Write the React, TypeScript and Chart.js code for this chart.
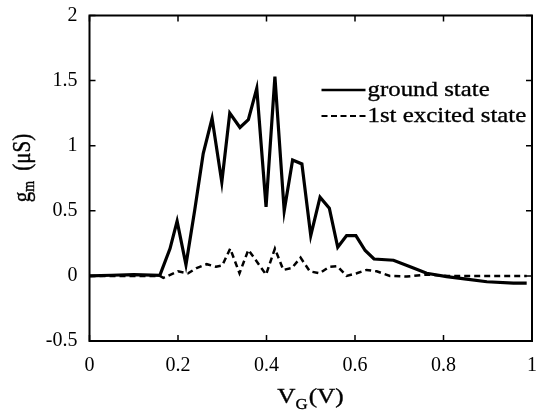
import React, { useEffect, useRef } from "react";
import { Chart, registerables } from "chart.js";

Chart.register(...registerables);

// Gate voltage V_G (V) and transconductance g_m (µS)
const groundV = [0, 0.05, 0.1, 0.159, 0.182, 0.198, 0.218, 0.238, 0.257, 0.277, 0.299, 0.317, 0.34, 0.359, 0.378, 0.399, 0.419, 0.44, 0.459, 0.48, 0.5, 0.521, 0.542, 0.561, 0.581, 0.602, 0.623, 0.643, 0.687, 0.732, 0.762, 0.807, 0.852, 0.898, 0.958, 0.988];
const groundG = [0, 0.005, 0.01, 0.005, 0.21, 0.42, 0.085, 0.51, 0.94, 1.21, 0.72, 1.25, 1.14, 1.2, 1.44, 0.53, 1.53, 0.5, 0.89, 0.86, 0.31, 0.605, 0.52, 0.22, 0.31, 0.31, 0.195, 0.13, 0.12, 0.06, 0.02, -0.005, -0.025, -0.045, -0.055, -0.055];

const excitedV = [0, 0.1, 0.159, 0.167, 0.2, 0.223, 0.242, 0.265, 0.286, 0.3, 0.318, 0.339, 0.359, 0.378, 0.399, 0.419, 0.438, 0.457, 0.477, 0.498, 0.52, 0.542, 0.56, 0.581, 0.604, 0.626, 0.649, 0.679, 0.717, 0.762, 0.81, 0.86, 0.92, 0.988];
const excitedG = [0, 0, 0, -0.015, 0.035, 0.02, 0.06, 0.09, 0.07, 0.08, 0.21, 0.02, 0.2, 0.11, 0.01, 0.21, 0.046, 0.06, 0.14, 0.035, 0.02, 0.07, 0.075, 0.0, 0.02, 0.046, 0.035, 0.0, -0.005, 0.01, 0.0, 0.0, 0.0, 0.0];

const seriesLabels = ["ground state", "1st excited state"];
const xTicks = [0, 0.2, 0.4, 0.6, 0.8, 1];
const yTicks = [-0.5, 0, 0.5, 1, 1.5, 2];

const SERIF = "'Liberation Serif', 'Times New Roman', serif";

function stretchText(ctx: any, text: string, x: number, y: number, font: string, sx: number) {
  ctx.save();
  ctx.font = font;
  const w = ctx.measureText(text).width;
  ctx.translate(x, y);
  ctx.scale(sx, 1);
  ctx.fillText(text, 0, 0);
  ctx.lineWidth = 0.35;
  ctx.strokeText(text, 0, 0);
  ctx.restore();
  return w * sx;
}

function textW(ctx: any, text: string, font: string, sx: number) {
  ctx.save();
  ctx.font = font;
  const w = ctx.measureText(text).width;
  ctx.restore();
  return w * sx;
}

const framePlugin = {
  id: "frameAndLabels",
  afterDraw(chart: any) {
    const ctx = chart.ctx;
    const { left, right, top, bottom } = chart.chartArea;
    const xs = chart.scales.x;
    const ys = chart.scales.y;
    ctx.save();
    ctx.strokeStyle = "#000";
    ctx.fillStyle = "#000";
    ctx.lineWidth = 2;
    ctx.strokeRect(left, top, right - left, bottom - top);
    ctx.lineWidth = 1.5;
    const tl = 6;
    ctx.beginPath();
    for (const v of xTicks) {
      const px = xs.getPixelForValue(v);
      ctx.moveTo(px, bottom);
      ctx.lineTo(px, bottom - tl);
      ctx.moveTo(px, top);
      ctx.lineTo(px, top + tl);
    }
    for (const v of yTicks) {
      const py = ys.getPixelForValue(v);
      ctx.moveTo(left, py);
      ctx.lineTo(left + tl, py);
      ctx.moveTo(right, py);
      ctx.lineTo(right - tl, py);
    }
    ctx.stroke();

    // legend
    const lx0 = left + 232;
    const lx1 = left + 276;
    const ly0 = top + 74.5;
    const ly1 = top + 100.5;
    ctx.lineWidth = 2.5;
    ctx.beginPath();
    ctx.moveTo(lx0, ly0);
    ctx.lineTo(lx1, ly0);
    ctx.stroke();
    ctx.setLineDash([6, 3.5]);
    ctx.lineWidth = 2;
    ctx.beginPath();
    ctx.moveTo(lx0, ly1);
    ctx.lineTo(lx1, ly1);
    ctx.stroke();
    ctx.setLineDash([]);
    ctx.textBaseline = "middle";
    ctx.textAlign = "left";
    const legFont = `22px ${SERIF}`;
    stretchText(ctx, seriesLabels[0], lx1 + 2, ly0, legFont, 1.13);
    stretchText(ctx, seriesLabels[1], lx1 + 2, ly1, legFont, 1.13);

    // x axis title V_G(V)
    ctx.textBaseline = "alphabetic";
    const big = `21px ${SERIF}`;
    const small = `14px ${SERIF}`;
    const sx = 1.2;
    const wV = textW(ctx, "V", big, sx);
    const wG = textW(ctx, "G", small, sx);
    const wP = textW(ctx, "(V)", big, sx);
    const total = wV + wG + wP + 1;
    let x = 310.5 - total / 2;
    const by = 403;
    x += stretchText(ctx, "V", x, by, big, sx);
    x += stretchText(ctx, "G", x, by + 6, small, sx) + 1;
    stretchText(ctx, "(V)", x, by, big, sx);

    // y axis title g_m (µS)
    ctx.translate(29.5, 168);
    ctx.rotate(-Math.PI / 2);
    ctx.scale(1, 1.2);
    ctx.font = big;
    const wg = ctx.measureText("g").width;
    const wu = ctx.measureText("(\u03bcS)").width;
    ctx.font = small;
    const wm = ctx.measureText("m").width;
    const gap = 10;
    const tot2 = wg + wm + gap + wu;
    let yx = -tot2 / 2;
    ctx.lineWidth = 0.35;
    ctx.font = big;
    ctx.fillText("g", yx, 0);
    ctx.strokeText("g", yx, 0);
    yx += wg;
    ctx.font = small;
    ctx.fillText("m", yx, 4);
    ctx.strokeText("m", yx, 4);
    yx += wm + gap;
    ctx.font = big;
    ctx.fillText("(\u03bcS)", yx, 0);
    ctx.strokeText("(\u03bcS)", yx, 0);
    ctx.restore();
  },
};

const zeroPad = (s: any) => {
  s.paddingTop = 0;
  s.paddingBottom = 0;
  s.paddingLeft = 0;
  s.paddingRight = 0;
};

export default function App() {
  const ref = useRef<HTMLCanvasElement>(null);
  useEffect(() => {
    if (!ref.current) return;
    const chart = new Chart(ref.current, {
      type: "line",
      data: {
        datasets: [
          {
            label: seriesLabels[0],
            data: groundV.map((v, i) => ({ x: v, y: groundG[i] })),
            borderColor: "#000",
            borderWidth: 3.2,
            pointRadius: 0,
            tension: 0,
            fill: false,
          },
          {
            label: seriesLabels[1],
            data: excitedV.map((v, i) => ({ x: v, y: excitedG[i] })),
            borderColor: "#000",
            borderWidth: 2.5,
            borderDash: [6, 4],
            pointRadius: 0,
            tension: 0,
            fill: false,
          },
        ],
      },
      options: {
        responsive: false,
        animation: false,
        layout: { padding: { left: 0, right: 8, top: 15.5, bottom: 0 } },
        plugins: { legend: { display: false }, tooltip: { enabled: false } },
        scales: {
          x: {
            type: "linear",
            min: 0,
            max: 1,
            afterBuildTicks: (s: any) => {
              s.ticks = xTicks.map((v) => ({ value: v }));
            },
            afterFit: (s: any) => {
              s.height = 75;
              zeroPad(s);
            },
            ticks: {
              color: "#000",
              font: { family: SERIF, size: 20 },
              padding: 13,
              maxRotation: 0,
              callback: (v: any) => String(v),
            },
            grid: { display: false, drawTicks: false },
            border: { display: false },
          },
          y: {
            type: "linear",
            min: -0.5,
            max: 2,
            afterBuildTicks: (s: any) => {
              s.ticks = yTicks.map((v) => ({ value: v }));
            },
            afterFit: (s: any) => {
              s.width = 89.5;
              zeroPad(s);
            },
            ticks: {
              color: "#000",
              font: { family: SERIF, size: 20 },
              padding: 12,
              callback: (v: any) => String(v),
            },
            grid: { display: false, drawTicks: false },
            border: { display: false },
          },
        },
      },
      plugins: [framePlugin],
    });
    return () => chart.destroy();
  }, []);
  return (
    <div style={{ position: "fixed", left: 0, top: 0, width: 540, height: 416, background: "#fff" }}>
      <canvas ref={ref} width={540} height={416} />
    </div>
  );
}
